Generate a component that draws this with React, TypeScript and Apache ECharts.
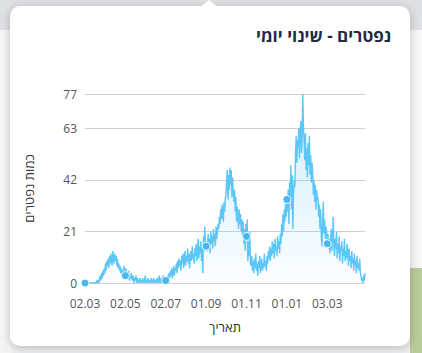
import React, { useEffect, useRef } from "react";
import * as echarts from "echarts";

// Daily deaths, grouped by ~two-month periods (first day: 02.03.2020)
const periodMarApr = [
  0, 0, 0, 0, 0, 0, 0, 0, 0, 0, 0, 0, 0, 0, 0, 0, 0, 0, 1, 0, 1, 0, 2,
  3, 1, 4, 2, 5, 3, 6, 4,
  8, 5, 9, 7, 10, 6, 11, 8, 12, 9, 7, 13, 10, 8, 12, 9, 11, 7, 10, 6,
  8, 5, 7, 4, 6, 3, 5, 4, 7, 3,
];
const periodMayJun = [
  3,
  6, 3, 4, 2, 5, 1, 3, 2, 4, 1, 2, 3, 0, 2, 1, 3, 0, 2, 1,
  0, 1, 2, 0, 1, 0, 2, 1, 0, 1, 3, 0, 1, 0, 2, 1, 0, 1, 0, 2,
  1, 0, 1, 2, 0, 1, 0, 1, 2, 0, 1, 3, 0, 1, 2, 0, 1, 3, 1, 2, 1,
];
const periodJulAug = [
  1,
  2, 1, 3, 2, 4, 2, 5, 3, 6, 2, 4, 7, 3, 6, 5, 8, 4, 9, 6, 10, 7,
  9, 5, 11, 8, 12, 6, 10, 13, 7, 11, 9, 14, 8, 12, 6, 11, 13, 9, 15, 10, 12, 8, 14,
  11, 16, 9, 13, 18, 10, 15, 12, 17, 9, 14, 4, 19, 13, 23, 16,
];
const periodSepOct = [
  15,
  17, 13, 20, 14, 18, 12, 21, 16, 19, 14, 22, 17, 20, 15, 23, 18, 21, 24,
  22, 27, 24, 30, 26, 32, 28, 25, 33, 29, 35,
  36, 42, 46, 34, 44, 38, 47, 40, 46, 35, 43, 37,
  33, 38, 29, 35, 25, 31, 27, 22, 30, 24, 28, 21, 26,
  19, 25, 16, 22, 13, 24,
];
const periodNovDec = [
  19,
  26, 9, 17, 11, 21, 8,
  7, 11, 5, 9, 4, 10, 6, 12, 5, 8, 3, 9, 6, 11, 4, 7, 10, 5, 8, 6, 12, 7, 9, 5, 11,
  8, 13, 10, 15, 9, 14, 11, 17, 12, 16, 10, 18, 13, 15, 11, 19, 14, 17, 12, 20,
  16, 24, 19, 28, 21, 30, 25, 33, 27,
];
const periodJanFeb = [
  34,
  29, 38, 24, 41, 33, 48, 30, 44, 22, 36, 42, 39,
  52, 60, 49, 58, 55, 63, 51, 62, 66, 53, 59, 77, 64,
  58, 50, 61, 46, 55, 43, 57, 48, 60, 44, 52, 41, 49,
  45, 36, 42, 33, 40, 30, 38, 34,
  35, 27, 32, 22, 30, 19, 15, 24, 33, 20, 26, 18, 23, 21,
];
const periodMarApr2021 = [
  16,
  20, 14, 18, 12, 17, 22, 13, 19, 27, 15, 11, 18, 14, 21, 10, 16, 12, 19, 9, 15,
  13, 17, 8, 14, 11, 18, 9, 13, 10, 16,
  12, 7, 14, 9, 11, 6, 13, 8, 10, 5, 12, 7, 9, 4, 11, 6, 8, 5, 10, 4,
  3, 1, 2, 0, 3, 1, 4,
];

const yTicks = [0, 21, 42, 63, 77];
const title = "נפטרים - שינוי יומי";
const yName = "כמות נפטרים";
const xName = "תאריך";
const startDate = Date.UTC(2020, 2, 2);

const values = [
  ...periodMarApr,
  ...periodMayJun,
  ...periodJulAug,
  ...periodSepOct,
  ...periodNovDec,
  ...periodJanFeb,
  ...periodMarApr2021,
];

const dates = values.map((_, i) => {
  const d = new Date(startDate + i * 86400000);
  const dd = String(d.getUTCDate()).padStart(2, "0");
  const mm = String(d.getUTCMonth() + 1).padStart(2, "0");
  return `${dd}.${mm}`;
});

const FONT = "'Open Sans', 'DejaVu Sans', sans-serif";

export default function App() {
  const ref = useRef<HTMLDivElement>(null);
  useEffect(() => {
    if (!ref.current) return;
    const chart = echarts.init(ref.current, null, { renderer: "svg" });
    chart.setOption({
      animation: false,
      textStyle: { fontFamily: FONT },
      title: {
        text: title,
        right: 26,
        top: 22,
        textStyle: { fontSize: 17, fontWeight: "bold", color: "#222b45", fontFamily: FONT },
      },
      grid: { left: 85, right: 57, top: 94, bottom: 70 },
      xAxis: {
        type: "category",
        data: dates,
        boundaryGap: false,
        name: xName,
        nameLocation: "middle",
        nameGap: 37,
        nameTextStyle: { fontSize: 13, color: "#333", fontFamily: FONT },
        axisLine: { show: false },
        axisTick: { show: false },
        axisLabel: { interval: 60, margin: 14, fontSize: 12, color: "#555", fontFamily: FONT },
      },
      yAxis: {
        type: "value",
        min: yTicks[0],
        max: yTicks[yTicks.length - 1],
        interval: yTicks[1] - yTicks[0],
        name: yName,
        nameLocation: "middle",
        nameGap: 50,
        nameTextStyle: { fontSize: 13, color: "#333", fontFamily: FONT },
        axisLine: { show: false },
        axisTick: { show: false },
        axisLabel: { margin: 8, fontSize: 12, color: "#555", fontFamily: FONT },
        splitLine: { lineStyle: { color: "#cfcfcf", width: 1 } },
      },
      series: [
        {
          type: "line",
          data: values,
          showSymbol: true,
          showAllSymbol: true,
          symbol: "circle",
          symbolSize: (_v: any, p: any) => (p.dataIndex % 61 === 0 ? 8 : 0),
          itemStyle: { color: "#45b9ef", borderColor: "#ffffff", borderWidth: 1 },
          lineStyle: { color: "#5cc6f6", width: 1.4 },
          areaStyle: {
            color: new echarts.graphic.LinearGradient(0, 0, 0, 1, [
              { offset: 0, color: "rgba(92,198,246,0.42)" },
              { offset: 1, color: "rgba(92,198,246,0.04)" },
            ]),
          },
        },
      ],
    });
    return () => chart.dispose();
  }, []);

  return (
    <div
      style={{
        position: "fixed",
        left: 0,
        top: 0,
        width: 422,
        height: 353,
        background: "#eeeff1",
        overflow: "hidden",
      }}
    >
      <div style={{ position: "absolute", left: 0, top: 0, width: 422, height: 30, background: "#dfe0e3" }} />
      <div style={{ position: "absolute", left: 0, top: 30, width: 12, height: 323, background: "#f4f4f5" }} />
      <div style={{ position: "absolute", left: 410, top: 30, width: 12, height: 240, background: "#f7f7f8" }} />
      <div style={{ position: "absolute", left: 410, top: 268, width: 12, height: 85, background: "#b7cc9a" }} />
      <div
        style={{
          position: "absolute",
          left: 10,
          top: 6,
          width: 400,
          height: 340,
          background: "#fff",
          borderRadius: 10,
          boxShadow: "0 2px 10px rgba(0,0,0,0.22)",
        }}
      />
      <div
        style={{
          position: "absolute",
          left: 200,
          top: 0,
          width: 0,
          height: 0,
          borderLeft: "9px solid transparent",
          borderRight: "9px solid transparent",
          borderBottom: "7px solid #fff",
        }}
      />
      <div ref={ref} style={{ position: "absolute", left: 0, top: 0, width: 422, height: 353 }} />
    </div>
  );
}
